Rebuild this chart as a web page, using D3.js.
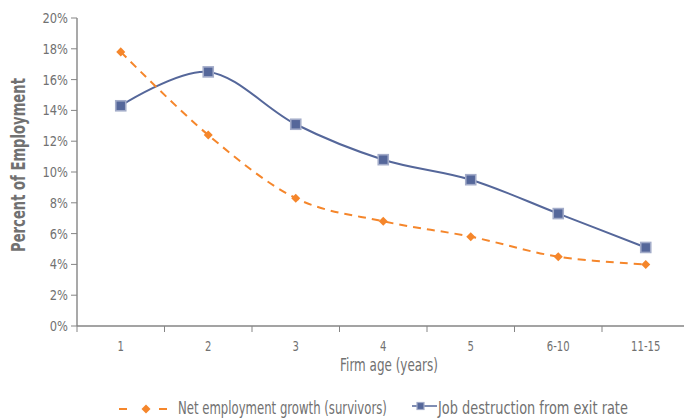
<!DOCTYPE html>
<html lang="en">
<head>
  <meta charset="UTF-8">
  <title>Firm age and employment</title>
  <style>
    body {
      margin: 0;
      padding: 0;
      background-color: #ffffff;
    }
    svg text {
      font-family: "DejaVu Sans", sans-serif;
      fill: #717171;
    }
  </style>
</head>
<body>
<div id="chart"></div>
<script src="https://d3js.org/d3.v7.min.js"></script>
<script>
  const ages = ["1", "2", "3", "4", "5", "6-10", "11-15"];
  const netGrowth = [17.8, 12.4, 8.3, 6.8, 5.8, 4.5, 4.0];
  const jobDestruction = [14.3, 16.5, 13.1, 10.8, 9.5, 7.3, 5.1];
  const yTicks = [0, 2, 4, 6, 8, 10, 12, 14, 16, 18, 20];
  const seriesNames = ["Net employment growth (survivors)", "Job destruction from exit rate"];

  const width = 684;
  const height = 418;
  const margin = { top: 18, left: 77 };
  const bandW = 87.5;
  const orange = "#f5862b";
  const blue = "#55679a";
  const axisColor = "#858585";

  // the original uses a narrow font: draw the text at (x, y) and scale it
  // horizontally, either by factor k or to a target width w
  function narrow(sel, x, y, opt) {
    sel.each(function(d, i) {
      const t = d3.select(this);
      const nat = this.getComputedTextLength();
      const k = opt.w ? opt.w / nat : opt.k;
      const px = typeof x === "function" ? x(d, i) : x;
      const py = typeof y === "function" ? y(d, i) : y;
      const rot = opt.rotate ? ` rotate(${opt.rotate})` : "";
      t.attr("x", 0).attr("y", 0)
       .attr("transform", `translate(${px},${py})${rot} scale(${k},1)`);
    });
  }

  const svg = d3.select("#chart").append("svg")
          .attr("width", width)
          .attr("height", height);

  const g = svg.append("g")
          .attr("transform", `translate(${margin.left},${margin.top})`);

  const innerH = 326 - margin.top;

  const xScale = d3.scaleBand().domain(ages).range([0, bandW * ages.length]);
  const yScale = d3.scaleLinear().domain([0, 20]).range([innerH, 0]);
  const xc = d => xScale(d) + xScale.bandwidth() / 2;

  // y axis
  g.append("line")
          .attr("x1", 0).attr("x2", 0).attr("y1", 0).attr("y2", innerH)
          .attr("stroke", axisColor).attr("stroke-width", 1.4);
  g.selectAll(".ytick")
          .data(yTicks)
          .enter().append("line")
          .attr("x1", -6).attr("x2", 0)
          .attr("y1", d => yScale(d)).attr("y2", d => yScale(d))
          .attr("stroke", axisColor);
  g.selectAll(".ylbl")
          .data(yTicks)
          .enter().append("text")
          .attr("text-anchor", "end")
          .attr("font-size", 14)
          .text(d => d + "%")
          .call(narrow, -9, d => yScale(d) + 5, { k: 0.82 });

  // x axis with ticks at category edges
  const xAxis = g.append("g").attr("transform", `translate(0,${innerH})`);
  xAxis.append("line")
          .attr("x1", 0).attr("x2", width).attr("stroke", axisColor).attr("stroke-width", 1.4);
  xAxis.selectAll(".edge")
          .data(ages)
          .enter().append("line")
          .attr("x1", d => xScale(d)).attr("x2", d => xScale(d))
          .attr("y1", 0).attr("y2", 6)
          .attr("stroke", axisColor);
  xAxis.selectAll(".lbl")
          .data(ages)
          .enter().append("text")
          .attr("text-anchor", "middle")
          .attr("font-size", 14)
          .text(d => d)
          .call(narrow, d => xc(d), 25, { k: 0.72 });

  svg.append("text")
          .attr("text-anchor", "middle")
          .attr("font-size", 17)
          .text("Firm age (years)")
          .call(narrow, 389, 371, { w: 98 });

  svg.append("text")
          .attr("text-anchor", "middle")
          .attr("font-size", 20)
          .attr("font-weight", "bold")
          .text("Percent of Employment")
          .call(narrow, 25, 165, { w: 174, rotate: -90 });

  const line = d3.line()
          .x((d, i) => xc(ages[i]))
          .y(d => yScale(d))
          .curve(d3.curveCatmullRom.alpha(0));

  g.append("path")
          .datum(jobDestruction)
          .attr("d", line)
          .attr("fill", "none")
          .attr("stroke", blue)
          .attr("stroke-width", 2);

  g.append("path")
          .datum(netGrowth)
          .attr("d", line)
          .attr("fill", "none")
          .attr("stroke", orange)
          .attr("stroke-width", 2)
          .attr("stroke-dasharray", "8,6");

  const diamond = d3.symbol().type(d3.symbolDiamond2).size(52);

  g.selectAll(".sq")
          .data(jobDestruction)
          .enter().append("rect")
          .attr("x", (d, i) => xc(ages[i]) - 5)
          .attr("y", d => yScale(d) - 5)
          .attr("width", 10).attr("height", 10)
          .attr("fill", blue)
          .attr("stroke", "#a3acc9")
          .attr("stroke-width", 1.6);

  g.selectAll(".dm")
          .data(netGrowth)
          .enter().append("path")
          .attr("d", diamond)
          .attr("transform", (d, i) => `translate(${xc(ages[i])},${yScale(d)})`)
          .attr("fill", orange);

  // legend
  const leg = svg.append("g");
  leg.append("line")
          .attr("x1", 119).attr("x2", 127).attr("y1", 409).attr("y2", 409)
          .attr("stroke", orange).attr("stroke-width", 2);
  leg.append("line")
          .attr("x1", 159).attr("x2", 167).attr("y1", 409).attr("y2", 409)
          .attr("stroke", orange).attr("stroke-width", 2);
  leg.append("path").attr("d", diamond).attr("transform", "translate(146,409)").attr("fill", orange);
  leg.append("text").attr("font-size", 18).text(seriesNames[0])
          .call(narrow, 178, 414, { w: 209 });

  leg.append("line")
          .attr("x1", 412).attr("x2", 437).attr("y1", 406).attr("y2", 406)
          .attr("stroke", blue).attr("stroke-width", 1.5);
  leg.append("rect")
          .attr("x", 417).attr("y", 402.5).attr("width", 7).attr("height", 7)
          .attr("fill", blue).attr("stroke", "#a3acc9").attr("stroke-width", 1.2);
  leg.append("text").attr("font-size", 18).text(seriesNames[1])
          .call(narrow, 438, 414, { w: 190 });
</script>
</body>
</html>
